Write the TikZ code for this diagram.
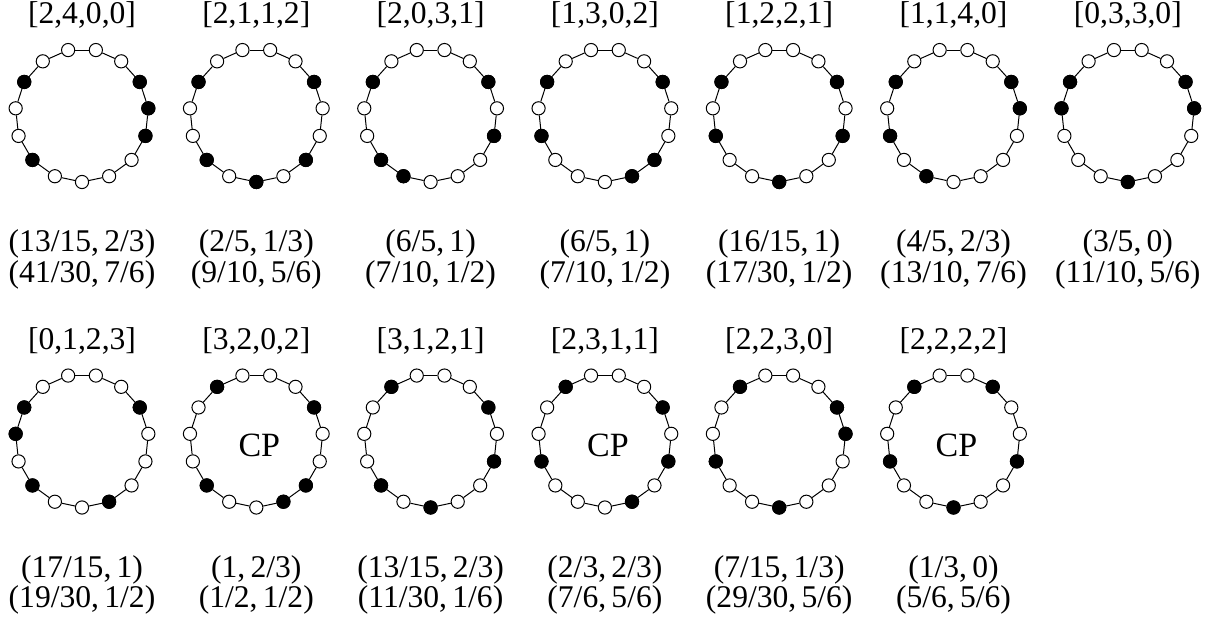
\documentclass[tikz,border=0pt]{standalone}
\usepackage{fontspec}
\setmainfont{Liberation Serif}

\begin{document}
\begin{tikzpicture}[x=0.5pt,y=0.5pt,
    every node/.style={font=\fontsize{15.8}{18}\selectfont},
    bead/.style={circle,draw,line width=0.5pt,fill=white,inner sep=0pt,minimum size=6.6pt},
    full/.style={bead,fill=black},
    ring/.style={line width=0.5pt},
    lab/.style={anchor=base,inner sep=0pt}]
  \useasboundingbox (0,0) rectangle (1224,622);
  % one necklace per entry: number/centre/gaps/two points/black beads
  \foreach \i/\cx/\cy/\lab/\pa/\pb/\blk in {
      1/82/506.7/{[2,4,0,0]}/{(13/15,\,2/3)}/{(41/30,\,7/6)}/{10,13,3,4,5},
      2/256.3/506.7/{[2,1,1,2]}/{(2/5,\,1/3)}/{(9/10,\,5/6)}/{10,13,0,2,5},
      3/430.6/506.7/{[2,0,3,1]}/{(6/5,\,1)}/{(7/10,\,1/2)}/{10,13,14,3,5},
      4/604.9/506.7/{[1,3,0,2]}/{(6/5,\,1)}/{(7/10,\,1/2)}/{10,12,1,2,5},
      5/779.2/506.7/{[1,2,2,1]}/{(16/15,\,1)}/{(17/30,\,1/2)}/{10,12,0,3,5},
      6/953.5/506.7/{[1,1,4,0]}/{(4/5,\,2/3)}/{(13/10,\,7/6)}/{10,12,14,4,5},
      7/1127.8/506.7/{[0,3,3,0]}/{(3/5,\,0)}/{(11/10,\,5/6)}/{10,11,0,4,5},
      8/82/181.2/{[0,1,2,3]}/{(17/15,\,1)}/{(19/30,\,1/2)}/{10,11,13,1,5},
      9/256.3/181.2/{[3,2,0,2]}/{(1,\,2/3)}/{(1/2,\,1/2)}/{9,13,1,2,5},
      10/430.6/181.2/{[3,1,2,1]}/{(13/15,\,2/3)}/{(11/30,\,1/6)}/{9,13,0,3,5},
      11/604.9/181.2/{[2,3,1,1]}/{(2/3,\,2/3)}/{(7/6,\,5/6)}/{9,12,1,3,5},
      12/779.2/181.2/{[2,2,3,0]}/{(7/15,\,1/3)}/{(29/30,\,5/6)}/{9,12,0,4,5},
      13/953.5/181.2/{[2,2,2,2]}/{(1/3,\,0)}/{(5/6,\,5/6)}/{9,12,0,3,6}}{
    \begin{scope}[shift={(\cx,\cy)}]
      \coordinate (o\i) at (0,0);
      \foreach \k in {0,...,14}
        \node[bead] (n\i-\k) at (270+24*\k:66.7) {};
      \foreach \k [evaluate={\k as \nk using int(mod(\k+1,15))}] in {0,...,14}
        \draw[ring] (n\i-\k) -- (n\i-\nk);
      \foreach \b in \blk
        \node[full] (f\i-\b) at (n\i-\b) {};
      \node[lab] (t\i) at (0,91.3) {\lab};
      \node[lab] (p\i) at (0,-136.2) {\pa};
      \node[lab] (q\i) at (0,-166.7) {\pb};
    \end{scope}
  }
  % critical points
  \foreach \i in {9,11,13}
    \node[font=\fontsize{17}{20}\selectfont] (cp\i) at ([shift={(3,-4.5)}]o\i) {CP};
\end{tikzpicture}
\end{document}
